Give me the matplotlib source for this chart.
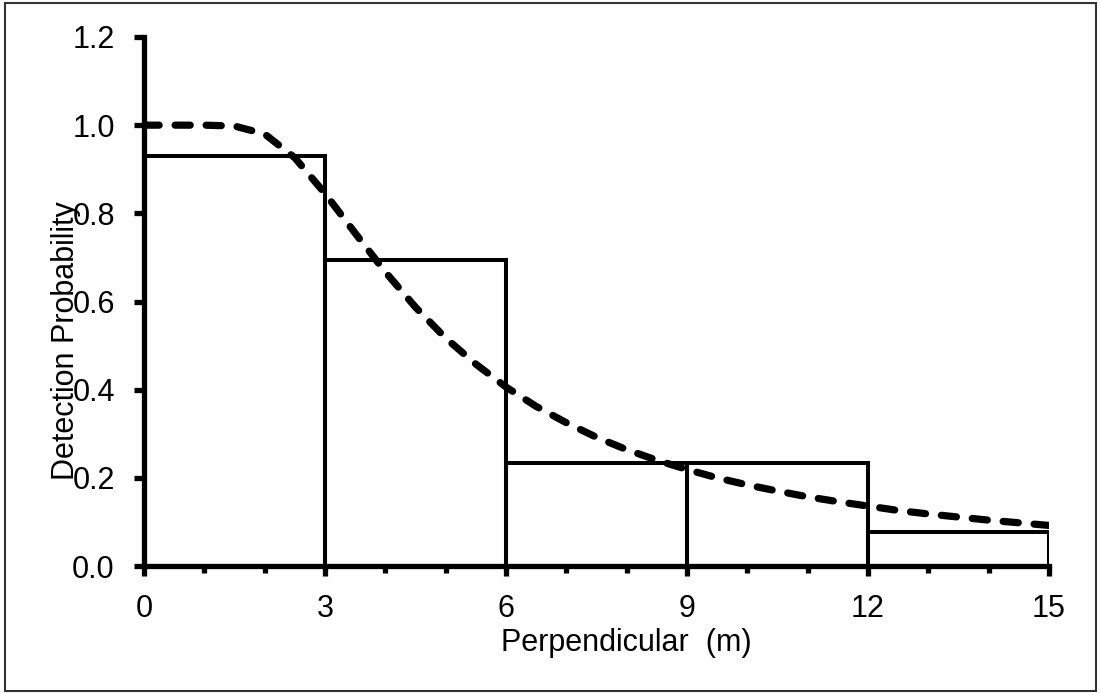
import matplotlib
matplotlib.use("Agg")
import matplotlib.pyplot as plt
from matplotlib.patches import Rectangle
from matplotlib.ticker import MultipleLocator

# ---- data ----
bin_edges_left = [0, 3, 6, 9, 12]
bin_width = 3
bar_heights = [0.93, 0.695, 0.233, 0.233, 0.078]

curve_x = [0, 0.5, 1, 1.5, 2, 2.5, 3, 3.5, 4, 4.5, 5, 5.5, 6, 6.5, 7, 7.5,
           8, 8.5, 9, 9.5, 10, 10.5, 11, 11.5, 12, 12.5, 13, 13.5, 14, 14.5, 15]
curve_y = [1.0, 1.0, 1.0, 0.998, 0.98, 0.926, 0.845, 0.755, 0.667, 0.587,
           0.517, 0.458, 0.406, 0.362, 0.325, 0.292, 0.264, 0.240, 0.219,
           0.200, 0.184, 0.170, 0.157, 0.146, 0.136, 0.126, 0.118, 0.111,
           0.104, 0.098, 0.092]

x_ticks = [0, 3, 6, 9, 12, 15]
y_ticks = [0.0, 0.2, 0.4, 0.6, 0.8, 1.0, 1.2]
y_tick_labels = ["0.0", "0.2", "0.4", "0.6", "0.8", "1.0", "1.2"]

plt.rcParams['font.family'] = ['Liberation Sans', 'DejaVu Sans']

W, H = 1101, 693
fig = plt.figure(figsize=(W / 100, H / 100), dpi=100)
ax = fig.add_axes([144 / W, 1 - 566 / H, 905 / W, 529 / H])

ax.bar(bin_edges_left, bar_heights, width=bin_width, align='edge',
       facecolor='none', edgecolor='black', linewidth=2.9, zorder=2)
ax.plot(curve_x, curve_y, color='black', linewidth=5.2,
        linestyle=(0, (2.1, 2.2)), zorder=3, solid_capstyle='round',
        dash_capstyle='round')

ax.set_xlim(0, 15)
ax.set_ylim(0, 1.2)
ax.set_xticks(x_ticks)
ax.set_xticklabels([str(v) for v in x_ticks])
ax.xaxis.set_minor_locator(MultipleLocator(1))
ax.set_yticks(y_ticks)
ax.set_yticklabels(y_tick_labels)

for s in ['top', 'right']:
    ax.spines[s].set_visible(False)
for s in ['left', 'bottom']:
    ax.spines[s].set_linewidth(3.8)
    ax.spines[s].set_zorder(4)
ax.tick_params(axis='both', which='major', direction='out', length=7,
               width=3.8, labelsize=22, colors='black')
ax.tick_params(axis='x', which='major', pad=13)
ax.tick_params(axis='y', which='major', pad=14)
ax.tick_params(axis='x', which='minor', direction='out', length=5, width=3.8)
ax.patch.set_alpha(0)

fig.text(626 / W, 1 - 643 / H, "Perpendicular  (m)", ha='center',
         va='center', fontsize=22)
fig.text(66 / W, 1 - 341 / H, "Detection Probability", ha='center',
         va='center', rotation=90, fontsize=22)

fig.patches.append(Rectangle((5 / W, 2 / H), 1091 / W, 688 / H,
                             transform=fig.transFigure, fill=False,
                             edgecolor='#333333', linewidth=1.5))

fig.savefig("out.png", dpi=100)
